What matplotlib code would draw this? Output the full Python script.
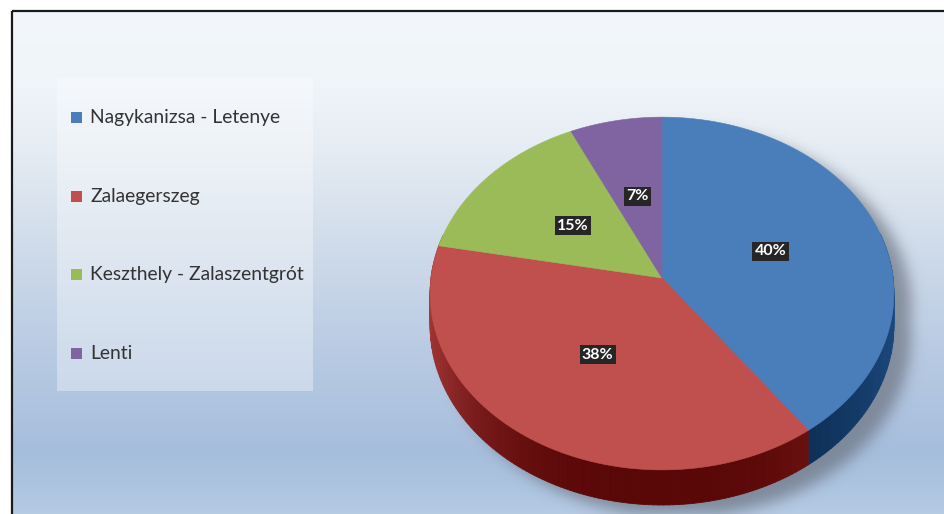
import numpy as np
import matplotlib
matplotlib.use('Agg')
import matplotlib.pyplot as plt
from matplotlib.patches import Polygon, Rectangle
from matplotlib.collections import PolyCollection
from matplotlib.colors import to_rgb
from matplotlib.path import Path

# data
categories = ['Nagykanizsa - Letenye', 'Zalaegerszeg', 'Keszthely - Zalaszentgrót', 'Lenti']
shares = [40, 38, 15, 7]
labels = ['40%', '38%', '15%', '7%']

top_colors = ['#4a7ebb', '#c0504d', '#9bbb59', '#8064a2']
side_light = ['#1d4a80', '#a33535', '#6f8c35', '#5a4480']
side_dark = ['#0a2a4f', '#5a0707', '#4a6020', '#3e2c5e']

W, H = 944, 514
cx, cy = 662, 278          # slice vertex in pixels
sx, sy, k = 231, 175, 0.088
depth = 32


def proj(t, r=1.0):
    # clockwise angle from 12 o'clock -> pixel coords with a little perspective
    u = r * np.sin(t)
    v = r * np.cos(t)
    w = 1 + k * v
    return cx + sx * u / w, cy - sy * v / w


def rim_depth(t):
    return depth / (1 + k * np.cos(t))


fig = plt.figure(figsize=(9.44, 5.14), dpi=100)
ax = fig.add_axes([0, 0, 1, 1])

# background gradient
stops_y = [11, 80, 150, 250, 350, 450, 480, 514]
stops_c = ['#f3f7fc', '#f0f5fa', '#e5ecf3', '#cfdbea', '#b9cbe3', '#a6bedd', '#abc3df', '#b6cbe4']
ys = np.arange(11, H)
rgb = np.array([to_rgb(c) for c in stops_c])
grad = np.stack([np.interp(ys, stops_y, rgb[:, i]) for i in range(3)], axis=-1)
img = np.repeat(grad[:, None, :], W - 12, axis=1)
ax.imshow(img, extent=(12, W, H, 11), aspect='auto', zorder=0, interpolation='bilinear')
ax.plot([12, 12], [11, H], color='#1a1a1a', lw=1.6, zorder=1, solid_capstyle='butt')
ax.plot([12, W], [11, 11], color='#1a1a1a', lw=1.6, zorder=1, solid_capstyle='butt')

# soft shadow to the right of the pie
tt = np.linspace(0, 2 * np.pi, 300)
rx, ry = proj(tt)
gx, gy = np.meshgrid(np.arange(W) + 0.5, np.arange(H) + 0.5)
pts = np.column_stack([gx.ravel(), gy.ravel()])
off_x, off_y = 17, 12
m1 = Path(np.column_stack([rx + off_x, ry + off_y])).contains_points(pts)
m2 = Path(np.column_stack([rx + off_x, ry + rim_depth(tt) + off_y])).contains_points(pts)
mask = (m1 | m2).reshape(H, W).astype(float)
sig = 7
kx = np.arange(-3 * sig, 3 * sig + 1)
kern = np.exp(-kx ** 2 / (2 * sig ** 2))
kern /= kern.sum()
mask = np.apply_along_axis(lambda r: np.convolve(r, kern, mode='same'), 1, mask)
mask = np.apply_along_axis(lambda c: np.convolve(c, kern, mode='same'), 0, mask)
shadow = np.zeros((H, W, 4))
shadow[..., :3] = (0.42, 0.45, 0.50)
shadow[..., 3] = 0.7 * mask
ax.imshow(shadow, extent=(0, W, H, 0), aspect='auto', zorder=1)

# legend box
ax.add_patch(Rectangle((57, 78), 256, 313, fc='white', alpha=0.35, ec='none', zorder=2))
for i, name in enumerate(categories):
    y = 117.5 + i * 78.7
    ax.add_patch(Rectangle((71, y - 5.5), 11, 11, fc=top_colors[i], ec='none', zorder=3))
    ax.text(90, y, name, va='center', ha='left', fontsize=13.9, color='#333333',
            family='Lato', zorder=3)

# pie
total = float(sum(shares))
edges = np.concatenate([[0], np.cumsum(shares)]) / total * 2 * np.pi

# side walls first
for i in range(len(shares)):
    t = np.linspace(edges[i], edges[i + 1], 120)
    quads, cols = [], []
    cl, cd = np.array(to_rgb(side_light[i])), np.array(to_rgb(side_dark[i]))
    for a0, a1 in zip(t[:-1], t[1:]):
        if np.cos(0.5 * (a0 + a1)) > 0.25:
            continue
        x0, y0 = proj(a0)
        x1, y1 = proj(a1)
        quads.append([(x0, y0), (x1, y1), (x1, y1 + rim_depth(a1)), (x0, y0 + rim_depth(a0))])
        p = abs(np.sin(0.5 * (a0 + a1)))
        cols.append(cd + (cl - cd) * p ** 3)
    if quads:
        ax.add_collection(PolyCollection(quads, facecolors=cols, edgecolors=cols,
                                         linewidths=0.6, zorder=4))

# top faces
for i in range(len(shares)):
    t = np.linspace(edges[i], edges[i + 1], 200)
    px, py = proj(t)
    poly = np.vstack([[cx, cy], np.column_stack([px, py])])
    ax.add_patch(Polygon(poly, closed=True, fc=top_colors[i], ec=top_colors[i],
                         lw=0.4, zorder=5))

# value labels
for i, lab in enumerate(labels):
    mid = 0.5 * (edges[i] + edges[i + 1])
    lx, ly = proj(mid, 0.5)
    ax.text(lx, ly, lab, ha='center', va='center', color='white', fontsize=11.5,
            weight='bold', family='Lato', zorder=6,
            bbox=dict(boxstyle='square,pad=0.15', fc='#262626', ec='none'))

ax.set_xlim(0, W)
ax.set_ylim(H, 0)
ax.axis('off')
fig.savefig('out.png', dpi=100, facecolor='white')
